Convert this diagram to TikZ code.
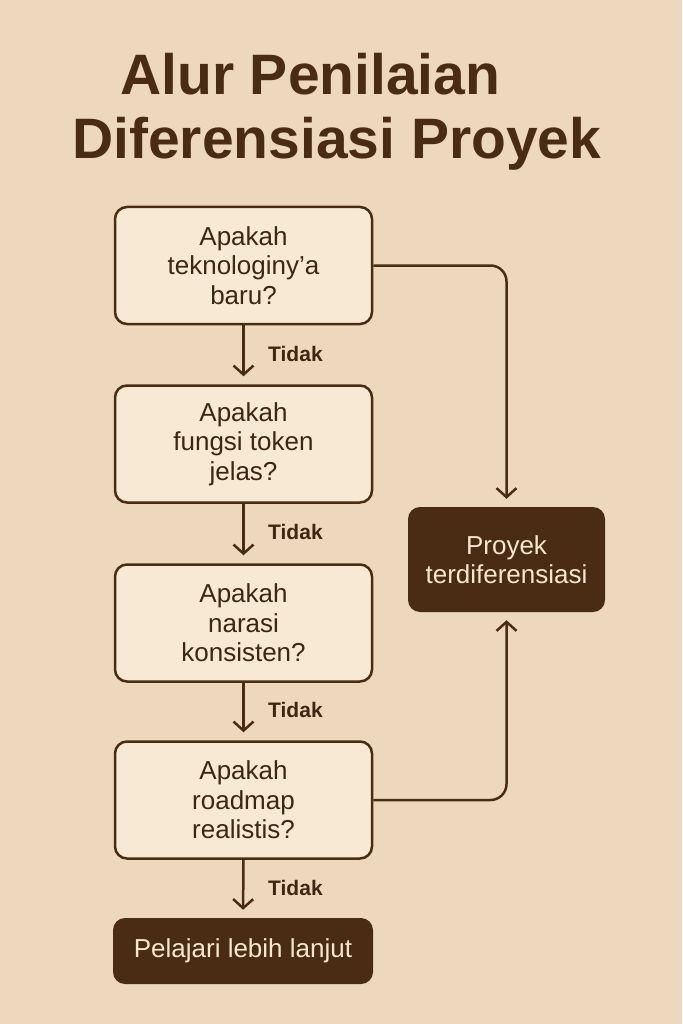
\documentclass[tikz,border=0pt]{standalone}
\usepackage{fontspec}
\setmainfont{Liberation Sans}
\usetikzlibrary{arrows.meta}
\definecolor{bg}{HTML}{EED8BD}
\definecolor{boxfill}{HTML}{F8E9D5}
\definecolor{dark}{HTML}{4A2C14}
\definecolor{txt}{HTML}{3E2613}
\definecolor{cream}{HTML}{F5E6D0}
\tikzset{
  qbox/.style={draw=dark, line width=2.5pt, fill=boxfill, rounded corners=12pt,
    minimum width=257pt, minimum height=117pt, align=center, text=txt,
    font=\fontsize{26}{29.5}\selectfont, inner sep=0pt},
  dbox/.style={fill=dark, rounded corners=12pt, align=center, text=cream,
    font=\fontsize{26}{29.5}\selectfont, inner sep=0pt},
  arr/.style={draw=dark, line width=2.5pt, -{Straight Barb[length=9pt,width=20pt,line width=2.5pt]}, shorten >=8pt},
  lbl/.style={text=txt, font=\bfseries\fontsize{21}{24}\selectfont, anchor=base west, inner sep=0pt},
  ttl/.style={text=dark, font=\bfseries\fontsize{57}{60}\selectfont, anchor=base west, inner sep=0pt}
}
\begin{document}
\begin{tikzpicture}[x=1pt,y=-1pt]
\fill[bg] (0,0) rectangle (682,1024);
\useasboundingbox (0,0) rectangle (682,1024);
\node[ttl] (t1) at (120,95) {Alur Penilaian};
\node[ttl] (t2) at (72,159) {Diferensiasi Proyek};
\node[qbox] (b1) at (243.5,265.5) {Apakah\\teknologiny’a\\baru?};
\node[qbox] (b2) at (243.5,444) {Apakah\\fungsi token\\jelas?};
\node[qbox] (b3) at (243.5,623) {Apakah\\narasi\\konsisten?};
\node[qbox] (b4) at (243.5,800) {Apakah\\roadmap\\realistis?};
\node[dbox, minimum width=197pt, minimum height=105pt] (r) at (506.5,559.5) {Proyek\\terdiferensiasi};
\node[dbox, minimum width=260pt, minimum height=66pt] (e) at (243,951) {Pelajari lebih lanjut};
\draw[arr] (b1.south) -- (b2.north);
\draw[arr] (b2.south) -- (b3.north);
\draw[arr] (b3.south) -- (b4.north);
\draw[arr] (b4.south) -- (e.north);
\node[lbl] (l1) at (268,361) {Tidak};
\node[lbl] (l2) at (268,539) {Tidak};
\node[lbl] (l3) at (268,717) {Tidak};
\node[lbl] (l4) at (268,895) {Tidak};
\draw[arr, rounded corners=16pt] (b1.east) -| (r.north);
\draw[arr, rounded corners=16pt] (b4.east) -| (r.south);
\end{tikzpicture}
\end{document}
